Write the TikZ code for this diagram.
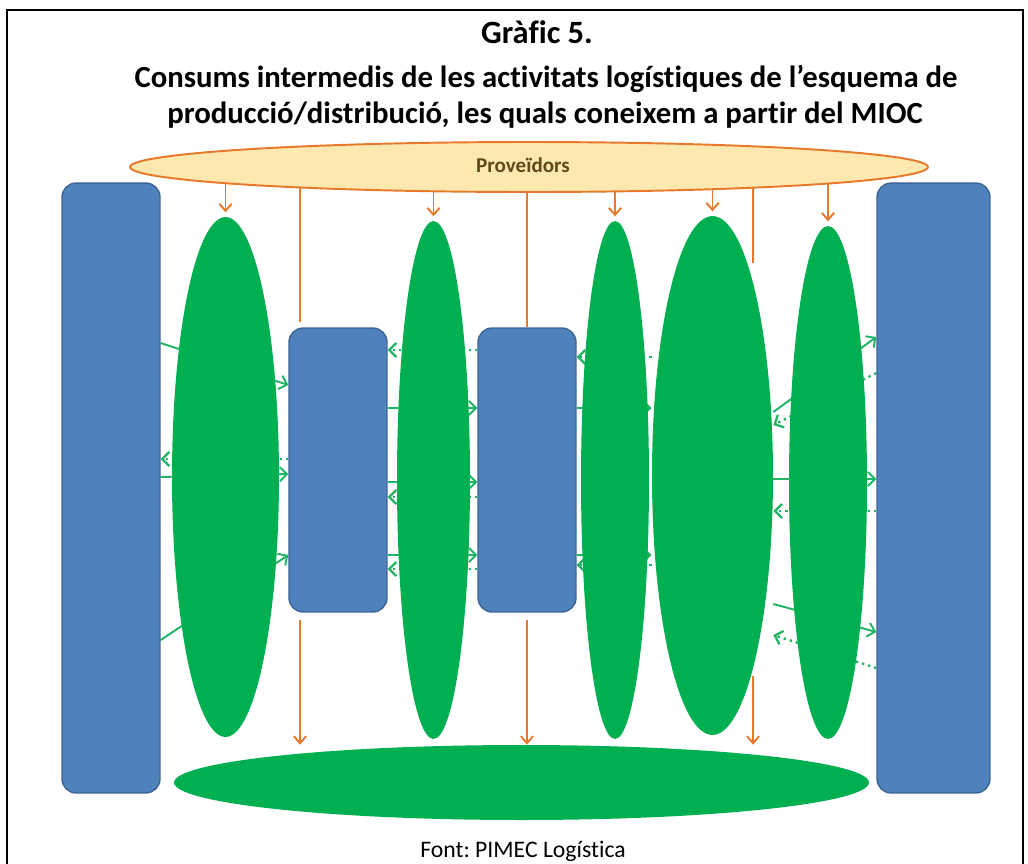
\documentclass[tikz,border=0pt]{standalone}
\usepackage{fontspec}
\setmainfont{Carlito}[Ligatures=NoCommon]
\usetikzlibrary{shapes.geometric,arrows.meta}
\definecolor{blau}{HTML}{4F81BD}
\definecolor{blaufosc}{HTML}{3C6595}
\definecolor{verd}{HTML}{00B050}
\definecolor{verdclar}{HTML}{1FB565}
\definecolor{taronja}{HTML}{E8782A}
\definecolor{groc}{HTML}{FDE8B0}
\definecolor{marro}{HTML}{5E4A1C}
\pgfdeclarelayer{fons}
\pgfsetlayers{fons,main}
\frenchspacing
\tikzset{
  caixa/.style={draw=blaufosc,fill=blau,line width=0.8pt,rounded corners=8pt,inner sep=0pt},
  oval/.style={ellipse,fill=verd,inner sep=0pt},
  fletxa/.style={draw=verdclar,line width=1.1pt,-{Straight Barb[length=4pt,width=8pt]}},
  punts/.style={fletxa,line width=1.3pt,dash pattern=on 1.4pt off 2.2pt},
  tar/.style={draw=taronja,line width=1.1pt},
  tarf/.style={tar,-{Straight Barb[length=4pt,width=7pt]}},
  titlefont/.style={font=\bfseries\fontsize{17.5}{21}\selectfont}
}
\begin{document}
\begin{tikzpicture}[x=0.02cm,y=-0.02cm]
\useasboundingbox (0,0) rectangle (1028,863);
\clip (0,0) rectangle (1028,863);
\draw[line width=1.2pt] (7,10) rectangle (1023,900);
% titol
\node[font=\bfseries\fontsize{18.5}{21}\selectfont] (titol1) at (537,32) {Gràfic 5.};
\node[titlefont] (titol2) at (546,79) {Consums intermedis de les activitats logístiques de l’esquema de};
\node[titlefont] (titol3) at (545,115) {producció/distribució, les quals coneixem a partir del MIOC};
\node[font=\fontsize{13.5}{15}\selectfont,anchor=base] (peu) at (523,857) {Font: PIMEC Logística};
% proveidors
\node[ellipse,draw=taronja,fill=groc,line width=1.1pt,minimum width=15.96cm,minimum height=1cm,inner sep=0pt] (prov) at (529,167) {};
\node[font=\bfseries\fontsize{12}{14}\selectfont,text=marro] (provtxt) at (523,165) {Proveïdors};
% caixes blaves
\node[caixa,minimum width=1.96cm,minimum height=12.2cm] (lb) at (111,488) {};
\node[caixa,minimum width=2.26cm,minimum height=12.2cm] (rb) at (933.5,488) {};
\node[caixa,minimum width=1.96cm,minimum height=5.68cm] (m1) at (338,470) {};
\node[caixa,minimum width=1.96cm,minimum height=5.68cm] (m2) at (527,470) {};
% ovals verds
\node[oval,minimum width=2.14cm,minimum height=10.4cm] (e1) at (225.5,477) {};
\node[oval,minimum width=1.46cm,minimum height=10.36cm] (e2) at (433.5,480) {};
\node[oval,minimum width=1.36cm,minimum height=10.36cm] (e3) at (615,480) {};
\node[oval,minimum width=2.42cm,minimum height=10.38cm] (e4) at (712.5,475.5) {};
\node[oval,minimum width=1.56cm,minimum height=10.26cm] (e5) at (828,482.5) {};
\node[oval,minimum width=13.9cm,minimum height=1.5cm] (bot) at (521.5,782.5) {};
\coordinate (o1) at (300,0);
\coordinate (o2) at (753,0);
\coordinate (o2a) at (753,263);
\coordinate (o2b) at (753,676);
\begin{pgfonlayer}{fons}
% fletxes taronja
\foreach \e in {e1,e2,e3,e4,e5}
  \draw[tarf,shorten >=2.5pt] (\e.north |- prov.center) -- (\e.north);
\draw[tar,shorten >=3pt] (o1 |- prov.center) -- (o1 |- m1.north);
\draw[tar] (m2.north |- prov.center) -- (m2.north);
\draw[tar] (o2 |- prov.center) -- (o2a);
\draw[tarf,shorten <=4pt] (o1 |- m1.south) -- (o1 |- bot.north);
\draw[tarf,shorten <=4pt] (m2.south) -- (bot.north -| m2.south);
\draw[tarf] (o2b) -- (o2 |- bot.north);
% fletxes verdes
\draw[fletxa] (lb.east |- 0,343) -- (m1.west |- 0,385);
\draw[punts] (m1.west |- 0,459) -- (lb.east |- 0,459);
\draw[fletxa] (lb.east |- 0,477) -- (m1.west |- 0,474);
\draw[fletxa] (lb.east |- 0,640) -- (m1.west |- 0,555);
\draw[punts] (m2.west |- 0,350) -- (m1.east |- 0,350);
\draw[fletxa] (m1.east |- 0,408) -- (m2.west |- 0,408);
\draw[fletxa] (m1.east |- 0,482) -- (m2.west |- 0,482);
\draw[punts] (m2.west |- 0,497) -- (m1.east |- 0,497);
\draw[fletxa] (m1.east |- 0,555) -- (m2.west |- 0,555);
\draw[punts] (m2.west |- 0,569) -- (m1.east |- 0,569);
\draw[punts] (e4.west |- 0,357) -- (m2.east |- 0,357);
\draw[fletxa] (m2.east |- 0,408) -- (e4.west |- 0,408);
\draw[fletxa] (m2.east |- 0,555) -- (e4.west |- 0,555);
\draw[punts] (e4.west |- 0,565) -- (m2.east |- 0,565);
\draw[fletxa] (e4.east |- 0,412) -- (rb.west |- 0,337);
\draw[punts] (rb.west |- 0,373) -- (e4.east |- 0,425);
\draw[fletxa] (e4.east |- 0,479) -- (rb.west |- 0,479);
\draw[punts] (rb.west |- 0,511) -- (e4.east |- 0,511);
\draw[fletxa] (e4.east |- 0,604) -- (rb.west |- 0,632);
\draw[punts] (rb.west |- 0,668) -- (e4.east |- 0,635);
\end{pgfonlayer}
\end{tikzpicture}
\end{document}
